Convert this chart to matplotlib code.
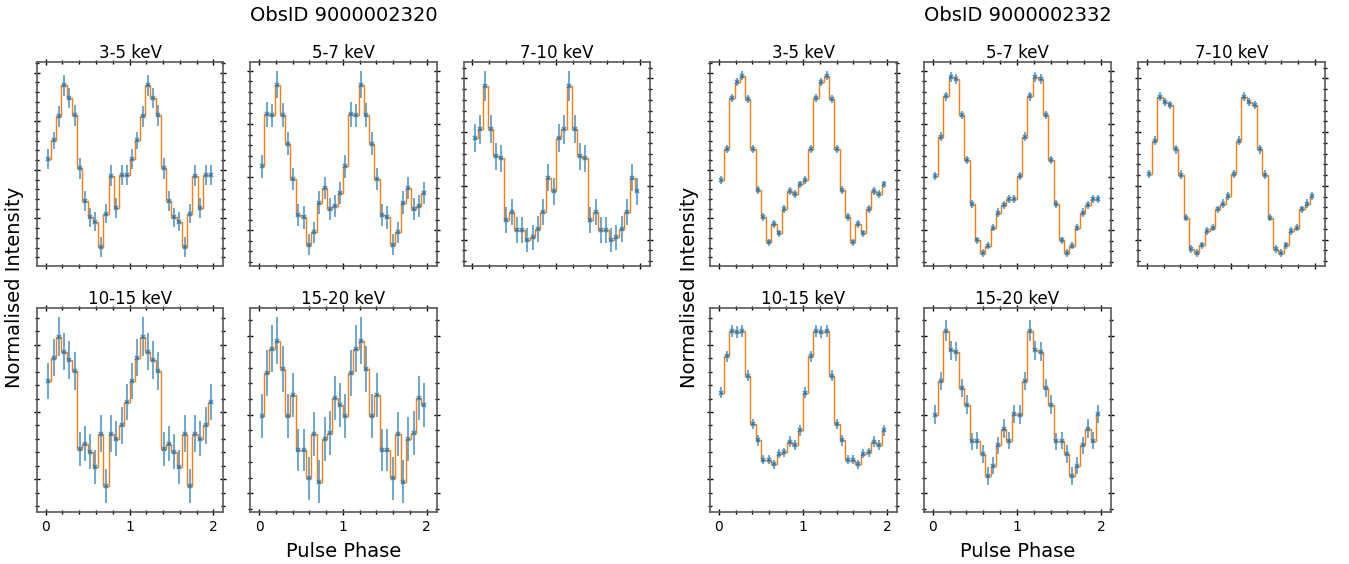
import numpy as np
import matplotlib.pyplot as plt
from matplotlib.ticker import MultipleLocator, AutoMinorLocator

# 16 phase bins per cycle, plotted twice (phase 0-2)
nbins = 16
phase = (np.arange(nbins) + 0.5) / nbins

bands = ['3-5 keV', '5-7 keV', '7-10 keV', '10-15 keV', '15-20 keV']
obsids = ['9000002320', '9000002332']

# ObsID 9000002320
prof_a = [
    [1.022, 1.061, 1.110, 1.174, 1.148, 1.112, 1.003, 0.936, 0.902, 0.893, 0.841, 0.910, 0.988, 0.921, 0.989, 0.989],
    [1.020, 1.118, 1.116, 1.174, 1.117, 1.063, 0.996, 0.928, 0.924, 0.873, 0.896, 0.952, 0.980, 0.940, 0.946, 0.970],
    [1.089, 1.105, 1.185, 1.105, 1.055, 1.051, 0.937, 0.951, 0.918, 0.918, 0.899, 0.904, 0.920, 0.951, 1.015, 0.990],
    [1.046, 1.081, 1.112, 1.090, 1.077, 1.061, 0.945, 0.953, 0.941, 0.918, 0.968, 0.890, 0.968, 0.960, 0.980, 1.015],
    [0.999, 1.053, 1.084, 1.094, 1.058, 0.999, 1.025, 0.955, 0.955, 0.919, 0.975, 0.915, 0.969, 0.977, 1.021, 1.012],
]
err_a = [
    [0.020, 0.018, 0.021, 0.022, 0.021, 0.021, 0.021, 0.020, 0.019, 0.020, 0.020, 0.020, 0.021, 0.021, 0.020, 0.020],
    [0.022, 0.023, 0.022, 0.025, 0.022, 0.022, 0.021, 0.021, 0.021, 0.020, 0.020, 0.021, 0.021, 0.021, 0.021, 0.021],
    [0.026, 0.027, 0.028, 0.026, 0.025, 0.025, 0.024, 0.024, 0.024, 0.024, 0.023, 0.023, 0.024, 0.024, 0.025, 0.025],
    [0.027, 0.028, 0.029, 0.028, 0.028, 0.028, 0.026, 0.026, 0.026, 0.025, 0.027, 0.025, 0.027, 0.026, 0.027, 0.027],
    [0.028, 0.029, 0.030, 0.030, 0.029, 0.028, 0.028, 0.027, 0.027, 0.027, 0.028, 0.027, 0.028, 0.028, 0.028, 0.028],
]

# ObsID 9000002332
prof_b = [
    [0.979, 1.043, 1.148, 1.181, 1.194, 1.146, 1.043, 0.959, 0.903, 0.851, 0.888, 0.869, 0.919, 0.957, 0.950, 0.970],
    [1.002, 1.076, 1.152, 1.188, 1.185, 1.117, 1.032, 0.949, 0.881, 0.857, 0.871, 0.905, 0.933, 0.947, 0.959, 0.959],
    [1.022, 1.084, 1.166, 1.156, 1.150, 1.068, 1.021, 0.941, 0.882, 0.875, 0.889, 0.916, 0.922, 0.956, 0.967, 0.981],
    [1.029, 1.083, 1.120, 1.119, 1.121, 1.054, 0.982, 0.958, 0.929, 0.929, 0.922, 0.938, 0.940, 0.956, 0.951, 0.973],
    [1.000, 1.043, 1.107, 1.082, 1.080, 1.034, 1.013, 0.966, 0.967, 0.950, 0.922, 0.935, 0.961, 0.982, 0.967, 1.001],
]
err_b = [
    [0.008, 0.008, 0.009, 0.009, 0.009, 0.009, 0.008, 0.008, 0.008, 0.007, 0.008, 0.008, 0.008, 0.008, 0.008, 0.008],
    [0.008, 0.008, 0.008, 0.009, 0.009, 0.008, 0.008, 0.008, 0.007, 0.007, 0.007, 0.007, 0.008, 0.008, 0.008, 0.008],
    [0.008, 0.008, 0.008, 0.008, 0.008, 0.008, 0.008, 0.007, 0.007, 0.007, 0.007, 0.007, 0.007, 0.007, 0.008, 0.008],
    [0.008, 0.008, 0.009, 0.009, 0.009, 0.008, 0.008, 0.008, 0.007, 0.007, 0.007, 0.007, 0.007, 0.008, 0.008, 0.008],
    [0.012, 0.012, 0.013, 0.012, 0.012, 0.012, 0.012, 0.011, 0.011, 0.011, 0.011, 0.011, 0.011, 0.012, 0.011, 0.012],
]

x2 = np.concatenate([phase, phase + 1])

fig = plt.figure(figsize=(13.49, 5.64), dpi=100)
gs_l = fig.add_gridspec(2, 3, left=0.0274, right=0.4818, top=0.890, bottom=0.0922,
                        wspace=0.145, hspace=0.206)
gs_r = fig.add_gridspec(2, 3, left=0.5263, right=0.9822, top=0.890, bottom=0.0922,
                        wspace=0.145, hspace=0.206)
slots = [(0, 0), (0, 1), (0, 2), (1, 0), (1, 1)]


def draw(ax, prof, err, title, bottom_row):
    y = np.tile(prof, 2)
    e = np.tile(err, 2)
    ax.step(x2, y, where='mid', color='C1', lw=1.0, zorder=1)
    ax.errorbar(x2, y, yerr=e, xerr=0.008, fmt='x', color='C0', ms=3, mew=1.2,
                elinewidth=1.2, alpha=0.75, zorder=2)
    ax.set_title(title, fontsize=12, pad=3)
    ax.set_xlim(-0.104, 2.118)
    ax.xaxis.set_major_locator(MultipleLocator(1))
    ax.xaxis.set_minor_locator(MultipleLocator(0.2))
    ax.yaxis.set_major_locator(MultipleLocator(0.1))
    ax.yaxis.set_minor_locator(AutoMinorLocator(5))
    ax.tick_params(which='both', direction='inout', top=True, right=True,
                   labelleft=False, labelbottom=bottom_row, labelsize=10)
    ax.tick_params(which='major', length=5, width=1)
    ax.tick_params(which='minor', length=3, width=1)
    for s in ax.spines.values():
        s.set_color('0.35')
        s.set_linewidth(1.2)


for k, band in enumerate(bands):
    r, c = slots[k]
    ax_a = fig.add_subplot(gs_l[r, c])
    ax_b = fig.add_subplot(gs_r[r, c], sharey=ax_a)
    draw(ax_a, prof_a[k], err_a[k], band, r == 1)
    draw(ax_b, prof_b[k], err_b[k], band, r == 1)

for xc, yl, obs in [(0.2546, 0.011, obsids[0]), (0.7543, 0.511, obsids[1])]:
    fig.text(xc, 0.973, 'ObsID ' + obs, ha='center', va='center', fontsize=14)
    fig.text(xc, 0.023, 'Pulse Phase', ha='center', va='center', fontsize=14)
    fig.text(yl, 0.491, 'Normalised Intensity', ha='center', va='center',
             rotation=90, fontsize=14)

fig.savefig('out.png', dpi=100)
